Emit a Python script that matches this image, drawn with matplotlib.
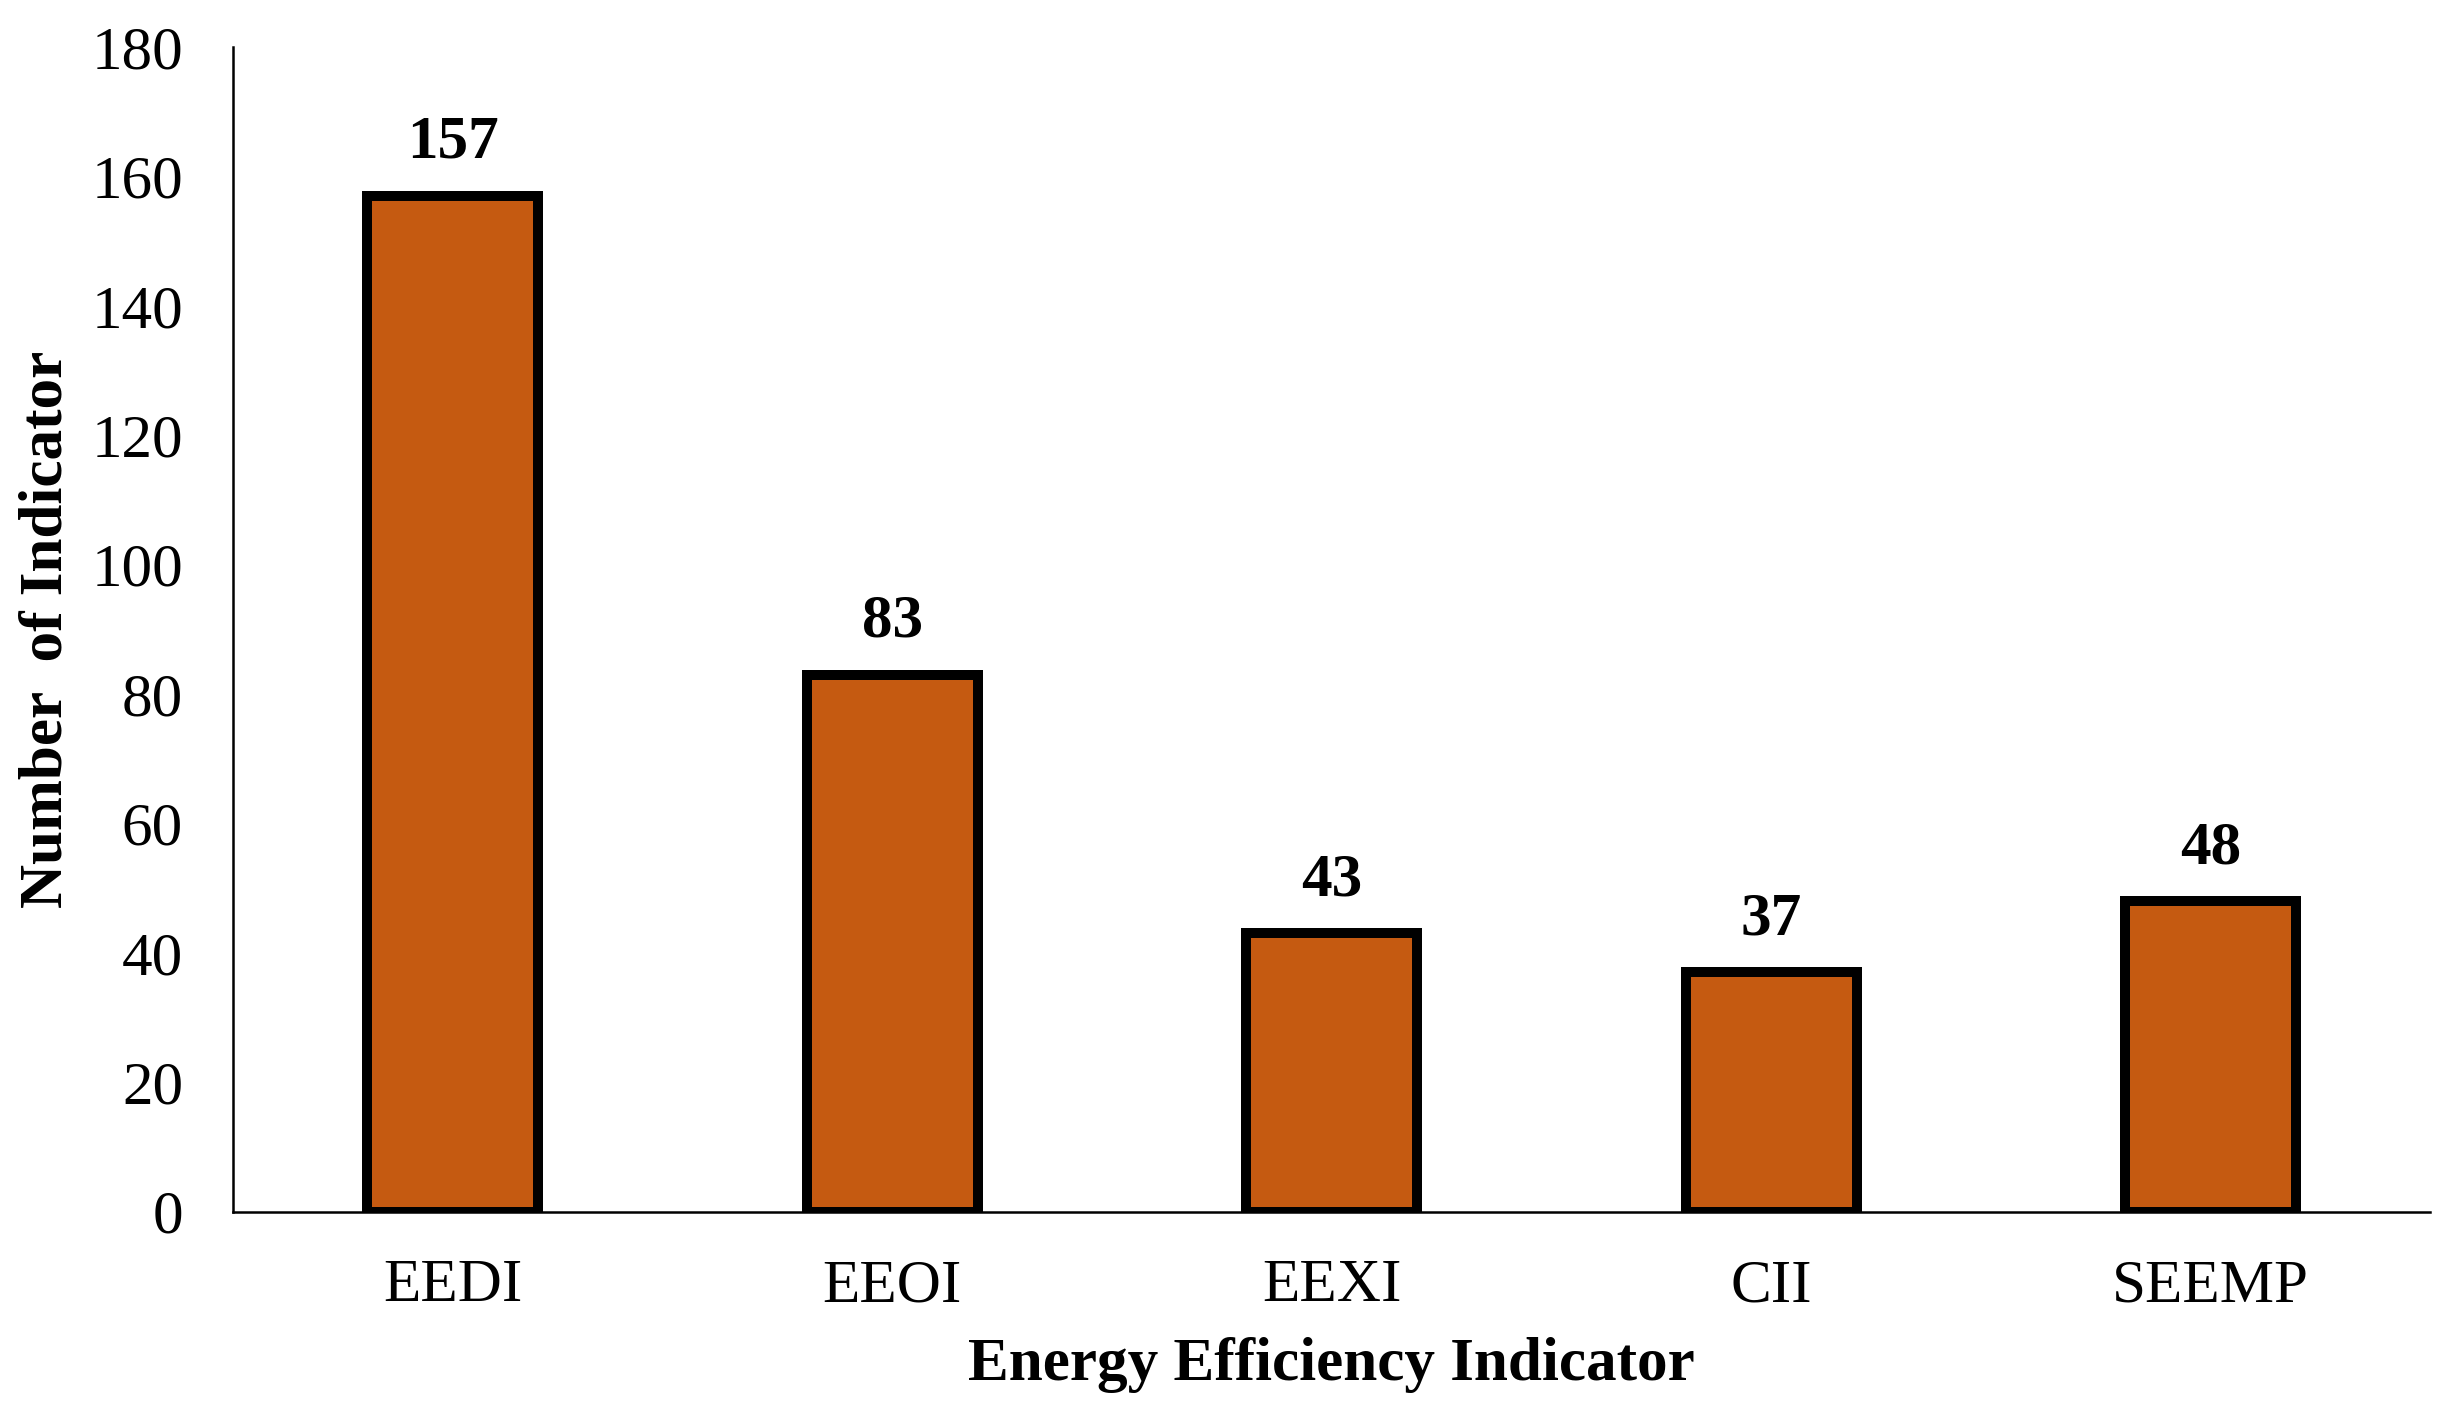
import matplotlib.pyplot as plt


# ==========================================================
# DATOS
# ==========================================================

indicadores = ["EEDI", "EEOI", "EEXI", "CII", "SEEMP"]
cantidades = [157, 83, 43, 37, 48]

y_ticks = [0, 20, 40, 60, 80, 100, 120, 140, 160, 180]


# ==========================================================
# GRÁFICA
# ==========================================================

plt.rcParams["font.family"] = ["Liberation Serif", "DejaVu Serif"]

TAM = 22

fig = plt.figure(figsize=(12.29, 7.105), dpi=200)

ax = fig.add_axes([0.0948, 0.1473, 0.894, 0.8196])

barras = ax.bar(
    indicadores,
    cantidades,
    width=0.39,
    color="#C55A11",
    edgecolor="black",
    linewidth=3.6,
    zorder=3
)

ax.bar_label(
    barras,
    labels=[str(v) for v in cantidades],
    padding=9,
    fontsize=TAM,
    fontweight="bold"
)

ax.set_xlim(-0.5, 4.5)
ax.set_ylim(0, 180)
ax.set_yticks(y_ticks)

ax.tick_params(axis="y", length=0, pad=18, labelsize=TAM)
ax.tick_params(axis="x", length=0, pad=17, labelsize=TAM)

ax.spines["top"].set_visible(False)
ax.spines["right"].set_visible(False)
ax.spines["left"].set_linewidth(0.9)
ax.spines["bottom"].set_linewidth(0.9)

ax.set_ylabel(
    "Number  of Indicator",
    fontsize=TAM,
    fontweight="bold",
    labelpad=6
)

ax.set_xlabel(
    "Energy Efficiency Indicator",
    fontsize=TAM,
    fontweight="bold",
    labelpad=8
)

fig.savefig("out.png", dpi=200)
